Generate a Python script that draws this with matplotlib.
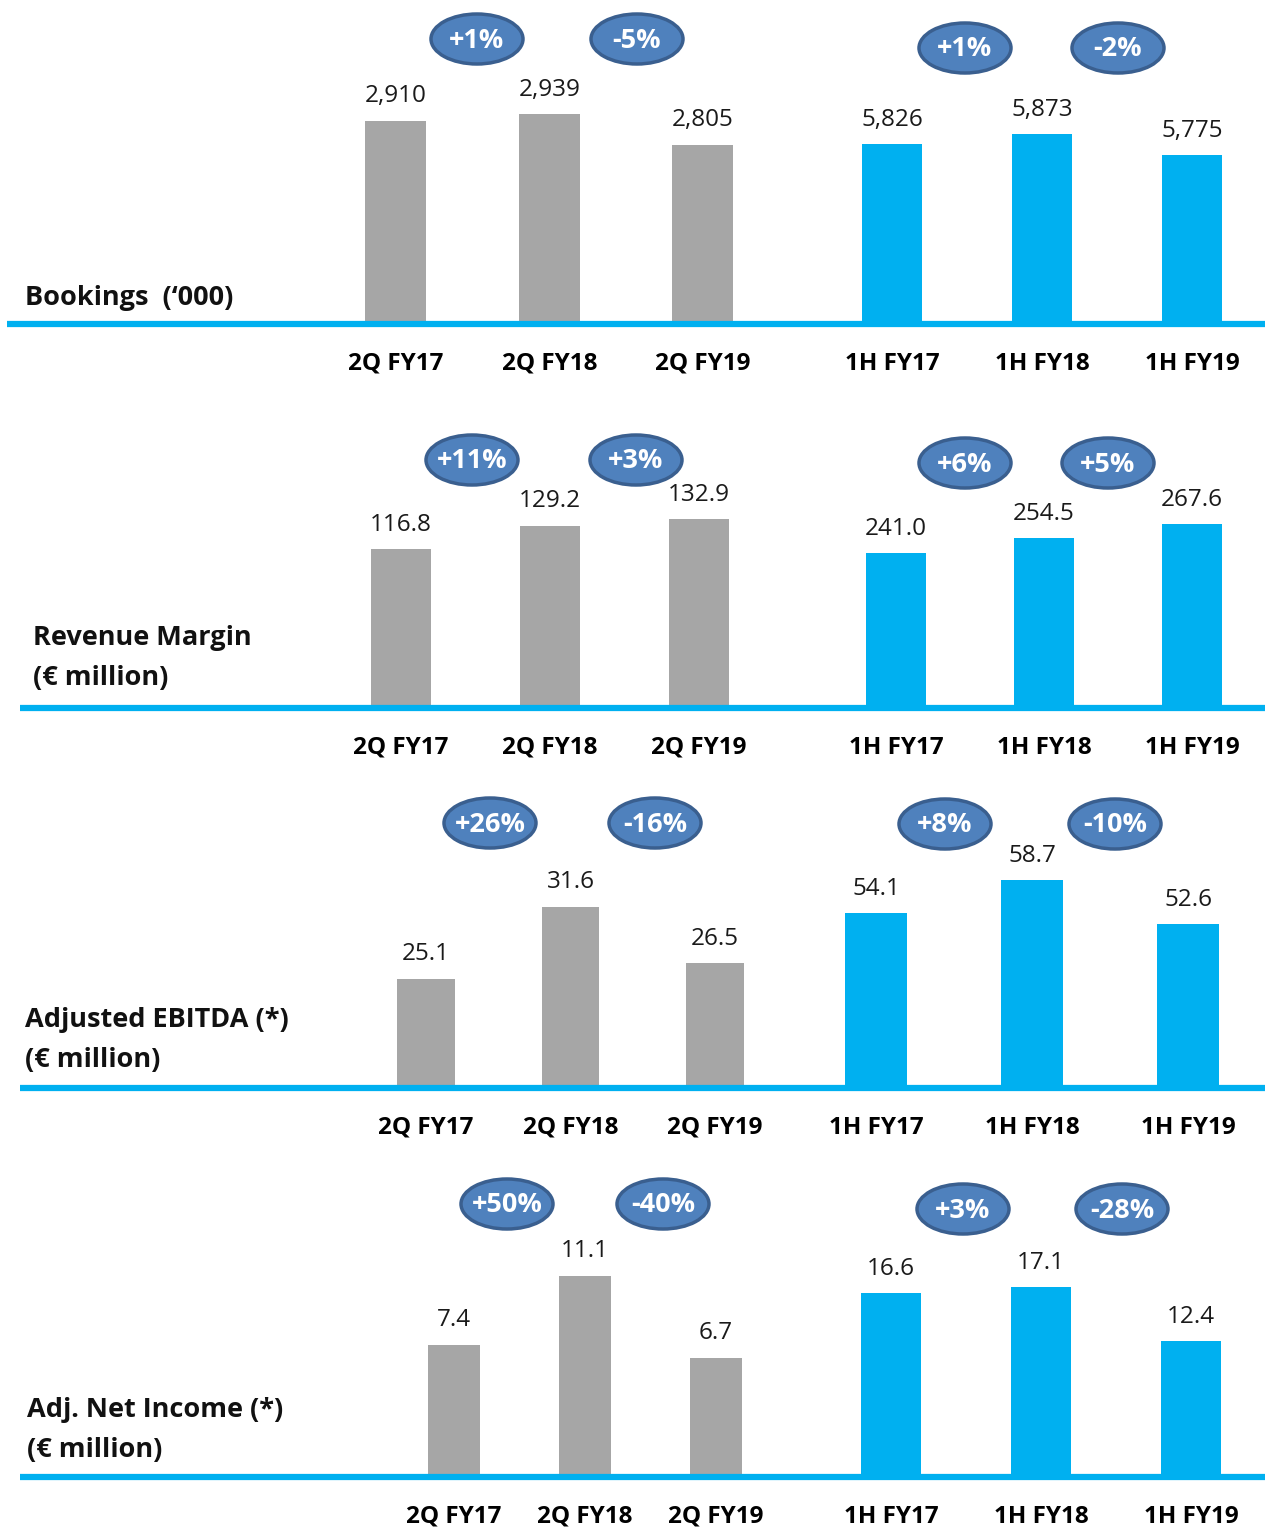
import matplotlib
matplotlib.use('Agg')
import matplotlib.pyplot as plt
from matplotlib.patches import Ellipse
from matplotlib.lines import Line2D
import matplotlib.transforms as mtransforms

W, H = 1265, 1529
plt.rcParams['font.family'] = ['Open Sans', 'DejaVu Sans']

# ---------------- data ----------------
quarter_labels = ['2Q FY17', '2Q FY18', '2Q FY19']
half_labels = ['1H FY17', '1H FY18', '1H FY19']

title_lines = [
    ['Bookings  (\u2018000)'],
    ['Revenue Margin', '(\u20ac million)'],
    ['Adjusted EBITDA (*)', '(\u20ac million)'],
    ['Adj. Net Income (*)', '(\u20ac million)'],
]

bookings_q = [2910, 2939, 2805]
bookings_h = [5826, 5873, 5775]
revenue_q = [116.8, 129.2, 132.9]
revenue_h = [241.0, 254.5, 267.6]
ebitda_q = [25.1, 31.6, 26.5]
ebitda_h = [54.1, 58.7, 52.6]
netinc_q = [7.4, 11.1, 6.7]
netinc_h = [16.6, 17.1, 12.4]

bookings_q_chg = ['+1%', '-5%']
bookings_h_chg = ['+1%', '-2%']
revenue_q_chg = ['+11%', '+3%']
revenue_h_chg = ['+6%', '+5%']
ebitda_q_chg = ['+26%', '-16%']
ebitda_h_chg = ['+8%', '-10%']
netinc_q_chg = ['+50%', '-40%']
netinc_h_chg = ['+3%', '-28%']

value_formats = ['{:,.0f}', '{:.1f}', '{:.1f}', '{:.1f}']

# axis value ranges (the original axes do not start at zero)
q_ylims = [(2022, 3334), (31.5, 192.5), (15.26, 42.3), (0.3, 16.4)]
h_ylims = [(4986, 6388), (99, 374), (29.9, 71.5), (0.6, 26.7)]

# ---------------- layout (pixels) ----------------
panels = [
    dict(base=324, line_x0=7, q=(319, 460.5), h=(817, 450),
         qbx=[477, 637], hbx=[965, 1118], qb=39, hb=48,
         tx=25, ty=[298]),
    dict(base=708, line_x0=20, q=(326.5, 447), h=(822, 444),
         qbx=[472, 636], hbx=[965, 1108], qb=460, hb=463,
         tx=33, ty=[638, 678]),
    dict(base=1088, line_x0=20, q=(353.75, 433.5), h=(798, 468),
         qbx=[490, 655], hbx=[945, 1115], qb=823, hb=824,
         tx=25, ty=[1020, 1060]),
    dict(base=1477, line_x0=20, q=(388.5, 393), h=(816, 450),
         qbx=[507, 663], hbx=[963, 1122], qb=1204, hb=1209,
         tx=27, ty=[1410, 1450]),
]
AX_H = 300

GREY = '#A6A6A6'
BLUE = '#00B0F0'
BADGE_FC = '#4F81BD'
BADGE_EC = '#3A5F8F'

q_values = [bookings_q, revenue_q, ebitda_q, netinc_q]
h_values = [bookings_h, revenue_h, ebitda_h, netinc_h]
q_changes = [bookings_q_chg, revenue_q_chg, ebitda_q_chg, netinc_q_chg]
h_changes = [bookings_h_chg, revenue_h_chg, ebitda_h_chg, netinc_h_chg]

fig = plt.figure(figsize=(W / 100, H / 100), dpi=100)
fig.patch.set_facecolor('white')


def badge(xpx, ypx, txt):
    cx, cy = xpx / W, 1 - ypx / H
    tr = fig.dpi_scale_trans + mtransforms.ScaledTranslation(cx, cy, fig.transFigure)
    e = Ellipse((0, 0), width=0.92, height=0.50, transform=tr,
                facecolor=BADGE_FC, edgecolor=BADGE_EC, lw=2.5, zorder=5)
    fig.add_artist(e)
    fig.text(cx, cy - 1.5 / H, txt, ha='center', va='center', fontsize=19.5,
             fontweight='bold', color='white', zorder=6)


def draw_group(ax, values, labels, color, ylim, fmt):
    x = list(range(len(values)))
    ax.bar(x, values, width=0.4, color=color, zorder=2)
    ax.set_xlim(-0.5, len(values) - 0.5)
    ax.set_ylim(*ylim)
    ax.set_xticks(x)
    ax.set_xticklabels(labels, fontsize=17.5, fontweight='bold', color='black')
    ax.tick_params(axis='x', length=0, pad=20)
    ax.set_yticks([])
    for s in ax.spines.values():
        s.set_visible(False)
    ax.patch.set_alpha(0)
    for xi, v in zip(x, values):
        ax.annotate(fmt.format(v), (xi, v), xytext=(0, 9), textcoords='offset points',
                    ha='center', va='bottom', fontsize=17.5, color='#1a1a1a')


for k, p in enumerate(panels):
    base = p['base']
    for (left, width), vals, labs, col, yl in [
        (p['q'], q_values[k], quarter_labels, GREY, q_ylims[k]),
        (p['h'], h_values[k], half_labels, BLUE, h_ylims[k]),
    ]:
        ax = fig.add_axes([left / W, 1 - base / H, width / W, AX_H / H])
        draw_group(ax, vals, labs, col, yl, value_formats[k])
    for xpx, txt in zip(p['qbx'], q_changes[k]):
        badge(xpx, p['qb'], txt)
    for xpx, txt in zip(p['hbx'], h_changes[k]):
        badge(xpx, p['hb'], txt)
    # baseline
    fig.add_artist(Line2D([p['line_x0'] / W, 1.0], [1 - base / H, 1 - base / H],
                          transform=fig.transFigure, color=BLUE, lw=4.5,
                          solid_capstyle='butt', zorder=10))
    for line, ty in zip(title_lines[k], p['ty']):
        fig.text(p['tx'] / W, 1 - ty / H, line, ha='left', va='center',
                 fontsize=19.5, fontweight='bold', color='#111111')

fig.savefig('out.png', dpi=100, facecolor='white')
